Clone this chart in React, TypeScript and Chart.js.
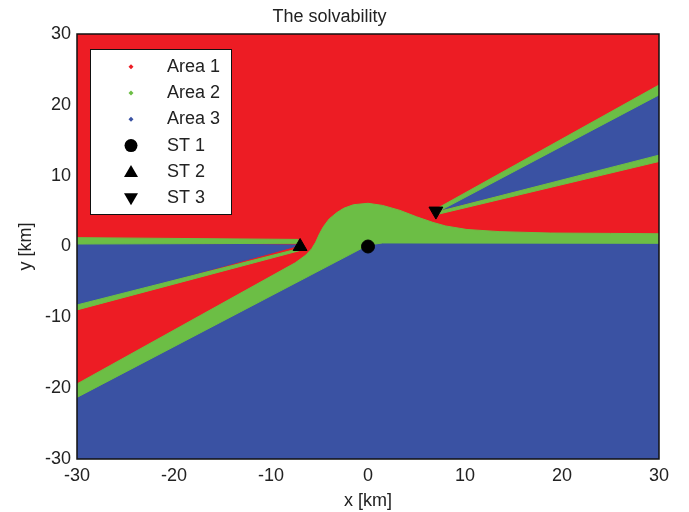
import React, { useEffect, useRef } from 'react';
import { Chart, registerables } from 'chart.js';

Chart.register(...registerables);

type Pt = [number, number];

// ---- data ----
const xTickValues = [-30, -20, -10, 0, 10, 20, 30];
const yTickValues = [-30, -20, -10, 0, 10, 20, 30];

const legendLabels = ['Area 1', 'Area 2', 'Area 3', 'ST 1', 'ST 2', 'ST 3'];

// Area 1 (red) fills the whole domain underneath
const area1Frame: Pt[] = [[-30, -30], [30, -30], [30, 30], [-30, 30]];

// Area 3 (blue) regions
const area3Lower: Pt[] = [[-30, -30], [30, -30], [30, 0.5], [1.5, 0.5], [0, 0.2], [-30, -21.3]];
const area3LeftWedge: Pt[] = [[-30, 0.5], [-7, 0.2], [-30, -8.5]];
const area3RightWedge: Pt[] = [[7.1, 4.95], [30, 21.6], [30, 12.8]];

// Area 2 (green) regions
const area2LeftBand: Pt[] = [[-30, 0.35], [-7.2, 0.45], [-7.2, 1.0], [-30, 1.25]];
const area2LeftLine: Pt[] = [[-30, -8.25], [-7.0, -0.25], [-7.1, -0.6], [-30, -8.95]];
const area2RightUpper: Pt[] = [[6.9, 5.2], [30, 22.8], [30, 21.4], [7.2, 4.9]];
const area2RightLower: Pt[] = [[7.2, 4.9], [30, 12.9], [30, 12.0], [7.2, 4.55]];
const area2Central: Pt[] = [
  [-30, -21.3], [0, 0.2], [1.5, 0.5], [30, 0.45], [30, 1.8], [25, 1.85], [18.8, 1.9],
  [13.6, 2.1], [10.2, 2.4], [8, 2.9], [6.7, 3.4], [5, 4.2], [3.3, 5.1], [1.5, 5.8],
  [0, 6.1], [-1.5, 5.9], [-2.5, 5.4], [-3.2, 4.8], [-4, 3.9], [-4.6, 2.8], [-5, 1.8],
  [-5.4, 0.6], [-5.8, -0.3], [-6.4, -1.2], [-7.5, -2.3], [-30, -19.4],
];

// stations
const st1: Pt[] = [[0, 0]];
const st2: Pt[] = [[-7, 0]];
const st3: Pt[] = [[7, 5]];

// ---- styles ----
const RED = '#ED1C24';
const GREEN = '#6CBE45';
const BLUE = '#3A52A3';
const TEXT = '#222222';
const FONT = '"Liberation Sans", Arial, sans-serif';

const toXY = (pts: Pt[]) => pts.map(([x, y]) => ({ x, y }));

const poly = (label: string, pts: Pt[], color: string) => ({
  type: 'scatter' as const,
  label,
  data: toXY(pts),
  showLine: true,
  fill: 'shape',
  backgroundColor: color,
  borderColor: color,
  borderWidth: 1,
  pointRadius: 0,
  pointHoverRadius: 0,
  tension: 0,
});

const station = (label: string, pts: Pt[], style: string, radius: number, rotation: number) => ({
  type: 'scatter' as const,
  label,
  data: toXY(pts),
  showLine: false,
  pointStyle: style,
  pointRadius: radius,
  pointRotation: rotation,
  backgroundColor: '#000',
  borderColor: '#000',
  borderWidth: 1,
});

const framePlugin = {
  id: 'frame',
  afterDatasetsDraw(chart: any) {
    const { ctx, chartArea: a } = chart;
    ctx.save();
    ctx.strokeStyle = '#111';
    ctx.lineWidth = 1.5;
    ctx.strokeRect(a.left, a.top, a.right - a.left, a.bottom - a.top);
    ctx.restore();
  },
};

const legendPlugin = {
  id: 'boxLegend',
  afterDraw(chart: any) {
    const { ctx } = chart;
    const boxX = 90, boxY = 49, boxW = 141, boxH = 165;
    ctx.save();
    ctx.fillStyle = '#fff';
    ctx.fillRect(boxX, boxY, boxW, boxH);
    ctx.strokeStyle = '#111';
    ctx.lineWidth = 1;
    ctx.strokeRect(boxX + 0.5, boxY + 0.5, boxW, boxH);
    const markerX = 131;
    const textX = 167;
    const rowStart = 66.7;
    const rowStep = 26.3;
    const colors = [RED, GREEN, BLUE];
    ctx.font = `18px ${FONT}`;
    ctx.textBaseline = 'middle';
    ctx.textAlign = 'left';
    legendLabels.forEach((lab, i) => {
      const y = rowStart + i * rowStep;
      if (i < 3) {
        ctx.fillStyle = colors[i];
        ctx.beginPath();
        ctx.moveTo(markerX, y - 2.5);
        ctx.lineTo(markerX + 2.5, y);
        ctx.lineTo(markerX, y + 2.5);
        ctx.lineTo(markerX - 2.5, y);
        ctx.closePath();
        ctx.fill();
      } else if (i === 3) {
        ctx.fillStyle = '#000';
        ctx.beginPath();
        ctx.arc(markerX, y, 6.5, 0, Math.PI * 2);
        ctx.fill();
      } else if (i === 4) {
        ctx.fillStyle = '#000';
        ctx.beginPath();
        ctx.moveTo(markerX, y - 7);
        ctx.lineTo(markerX + 7, y + 5);
        ctx.lineTo(markerX - 7, y + 5);
        ctx.closePath();
        ctx.fill();
      } else {
        ctx.fillStyle = '#000';
        ctx.beginPath();
        ctx.moveTo(markerX, y + 7);
        ctx.lineTo(markerX + 7, y - 5);
        ctx.lineTo(markerX - 7, y - 5);
        ctx.closePath();
        ctx.fill();
      }
      ctx.fillStyle = TEXT;
      ctx.fillText(lab, textX, y);
    });
    ctx.restore();
  },
};

export default function App() {
  const ref = useRef<HTMLCanvasElement | null>(null);

  useEffect(() => {
    if (!ref.current) return;
    const chart = new Chart(ref.current, {
      type: 'scatter',
      data: {
        datasets: [
          station('ST 1', st1, 'circle', 6.5, 0),
          station('ST 2', st2, 'triangle', 8, 0),
          station('ST 3', st3, 'triangle', 8, 180),
          poly('Area 2', area2RightUpper, GREEN),
          poly('Area 2', area2RightLower, GREEN),
          poly('Area 2', area2LeftLine, GREEN),
          poly('Area 2', area2LeftBand, GREEN),
          poly('Area 2', area2Central, GREEN),
          poly('Area 3', area3RightWedge, BLUE),
          poly('Area 3', area3LeftWedge, BLUE),
          poly('Area 3', area3Lower, BLUE),
          poly('Area 1', area1Frame, RED),
        ] as any,
      },
      options: {
        responsive: false,
        animation: false,
        devicePixelRatio: 1,
        layout: { padding: { left: 0, right: 30, top: 0, bottom: 0 } },
        plugins: {
          legend: { display: false },
          tooltip: { enabled: false },
          title: {
            display: true,
            text: 'The solvability',
            color: TEXT,
            font: { family: FONT, size: 18, weight: 'normal' },
            padding: { top: 6, bottom: 6.4 },
          },
        },
        scales: {
          x: {
            type: 'linear',
            min: -30,
            max: 30,
            afterBuildTicks: (s: any) => {
              s.ticks = xTickValues.map((v) => ({ value: v }));
            },
            afterFit: (s: any) => {
              s.height = 53;
            },
            grid: { display: false, drawTicks: false },
            border: { display: false },
            ticks: {
              padding: 6,
              color: TEXT,
              autoSkip: false,
              maxRotation: 0,
              font: { family: FONT, size: 18 },
            },
            title: {
              display: true,
              text: 'x [km]',
              color: TEXT,
              font: { family: FONT, size: 18 },
              padding: { top: 0, bottom: 0 },
            },
          },
          y: {
            type: 'linear',
            min: -30,
            max: 30,
            afterBuildTicks: (s: any) => {
              s.ticks = yTickValues.map((v) => ({ value: v }));
            },
            afterFit: (s: any) => {
              s.width = 77;
            },
            grid: { display: false, drawTicks: false },
            border: { display: false },
            ticks: {
              padding: 6,
              color: TEXT,
              autoSkip: false,
              font: { family: FONT, size: 18 },
            },
            title: {
              display: true,
              text: 'y [km]',
              color: TEXT,
              font: { family: FONT, size: 18 },
              padding: { top: 15, bottom: 0 },
            },
          },
        },
      } as any,
      plugins: [framePlugin, legendPlugin],
    });
    return () => chart.destroy();
  }, []);

  return (
    <div style={{ position: 'absolute', left: 0, top: 0, width: 689, height: 512, background: '#fff' }}>
      <canvas ref={ref} width={689} height={512} style={{ display: 'block', width: 689, height: 512 }} />
    </div>
  );
}
